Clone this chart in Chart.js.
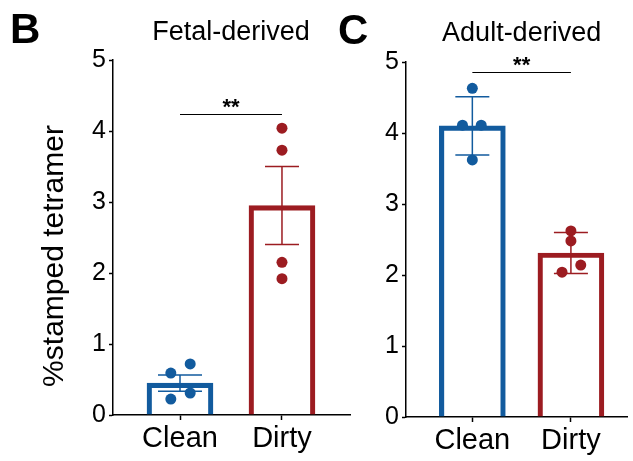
<!DOCTYPE html>
<html>
<head>
<meta charset="utf-8">
<script src="https://cdn.jsdelivr.net/npm/chart.js@4.4.1/dist/chart.umd.min.js"></script>
<style>
  html, body { margin: 0; padding: 0; background: #fff; }
  #wrap { position: relative; width: 633px; height: 461px; overflow: hidden; }
  canvas { position: absolute; top: 0; }
  #chartB { left: 0; }
  #chartC { left: 330px; }
</style>
</head>
<body>
<div id="wrap">
  <canvas id="chartB" width="360" height="461"></canvas>
  <canvas id="chartC" width="303" height="461"></canvas>
</div>
<script>
// values
const categories = ['Clean', 'Dirty'];
const yTicks = [0, 1, 2, 3, 4, 5];
const significance = '**';

const fetalMeans = [0.45, 2.95];
const fetalErrors = [0.115, 0.55];
const fetalClean = [0.59, 0.72, 0.225, 0.31];
const fetalDirty = [4.04, 3.73, 2.15, 1.92];

const adultMeans = [4.10, 2.31];
const adultErrors = [0.41, 0.29];
const adultClean = [4.63, 4.11, 4.11, 3.62];
const adultDirty = [2.62, 2.48, 2.14, 2.04];

const BLUE = '#125b9e';
const RED = '#9c1c21';
const FONT = '"Liberation Sans", Arial, Helvetica, sans-serif';

Chart.defaults.font.family = FONT;
Chart.defaults.color = '#000';

// draws error bars right after the bars, so the dots sit on top
const errorBars = {
  id: 'errorBars',
  afterDatasetDraw(chart, args, opts) {
    if (args.meta.type !== 'bar') return;
    const { ctx, scales: { x, y } } = chart;
    ctx.save();
    ctx.lineWidth = 1.5;
    opts.means.forEach((m, i) => {
      const cx = x.getPixelForValue(i);
      const top = y.getPixelForValue(m + opts.errors[i]);
      const bot = y.getPixelForValue(m - opts.errors[i]);
      const half = opts.caps[i] / 2;
      ctx.strokeStyle = opts.colors[i];
      ctx.beginPath();
      ctx.moveTo(cx, top); ctx.lineTo(cx, bot);
      ctx.moveTo(cx - half, top); ctx.lineTo(cx + half, top);
      ctx.moveTo(cx - half, bot); ctx.lineTo(cx + half, bot);
      ctx.stroke();
    });
    ctx.restore();
  }
};

// bracket, stars, titles, panel letter and y title
const panelText = {
  id: 'panelText',
  afterDraw(chart, args, opts) {
    const { ctx, scales: { x, y } } = chart;
    const x0 = x.getPixelForValue(0);
    const x1 = x.getPixelForValue(1);
    const mid = (x0 + x1) / 2;
    const by = Math.round(y.getPixelForValue(opts.bracketY)) + 0.5;
    ctx.save();
    ctx.strokeStyle = '#000';
    ctx.lineWidth = 1.2;
    ctx.beginPath();
    ctx.moveTo(x0, by); ctx.lineTo(x1, by);
    ctx.stroke();

    ctx.fillStyle = '#000';
    ctx.textAlign = 'center';
    ctx.textBaseline = 'alphabetic';
    ctx.font = 'bold 22px ' + FONT;
    ctx.fillText(significance, mid, by - 1);

    ctx.font = '27px ' + FONT;
    ctx.fillText(opts.title, mid, opts.titleBase);

    ctx.textAlign = 'left';
    ctx.font = 'bold 42px ' + FONT;
    ctx.fillText(opts.letter, opts.letterX, opts.letterBase);

    if (opts.yTitle) {
      ctx.save();
      ctx.translate(opts.yTitleX, opts.yTitleY);
      ctx.rotate(-Math.PI / 2);
      ctx.textAlign = 'center';
      ctx.font = '30px ' + FONT;
      ctx.fillText(opts.yTitle, 0, 0);
      ctx.restore();
    }
    ctx.restore();
  }
};

function makePanel(id, p) {
  return new Chart(document.getElementById(id), {
    type: 'bar',
    data: {
      datasets: [
        {
          type: 'scatter',
          data: p.clean.map((v, i) => ({ x: 0 + p.jitterClean[i], y: v })),
          backgroundColor: BLUE,
          pointRadius: 5.5,
          pointBorderWidth: 0,
          order: 1
        },
        {
          type: 'scatter',
          data: p.dirty.map((v, i) => ({ x: 1 + p.jitterDirty[i], y: v })),
          backgroundColor: RED,
          pointRadius: 5.5,
          pointBorderWidth: 0,
          order: 1
        },
        {
          type: 'bar',
          data: p.means.map((v, i) => ({ x: i, y: v })),
          backgroundColor: 'rgba(255,255,255,0)',
          borderColor: [BLUE, RED],
          borderWidth: 4.5,
          borderSkipped: 'start',
          barThickness: 66,
          order: 3
        }
      ]
    },
    options: {
      responsive: false,
      animation: false,
      events: [],
      layout: { padding: p.padding },
      plugins: {
        legend: { display: false },
        tooltip: { enabled: false },
        errorBars: { means: p.means, errors: p.errors, caps: p.caps, colors: [BLUE, RED] },
        panelText: p.text
      },
      scales: {
        x: {
          type: 'linear',
          offset: false,
          min: p.xMin,
          max: p.xMax,
          afterBuildTicks: s => { s.ticks = categories.map((c, i) => ({ value: i })); },
          afterFit: s => { s.height = p.xHeight; },
          ticks: {
            callback: v => categories[v],
            font: { size: 29 },
            color: '#000',
            padding: 2,
            maxRotation: 0
          },
          grid: { drawOnChartArea: false, offset: false, tickLength: 5, tickWidth: 1.5, tickColor: '#000' },
          border: { color: '#000', width: 1.5 }
        },
        y: {
          min: 0,
          max: 5,
          afterBuildTicks: s => { s.ticks = yTicks.map(v => ({ value: v })); },
          afterFit: s => { s.width = p.yWidth; },
          ticks: { font: { size: 25 }, color: '#000', padding: 3 },
          grid: { drawOnChartArea: false, tickLength: 4, tickWidth: 1.5, tickColor: '#000' },
          border: { color: '#000', width: 1.5 }
        }
      }
    },
    plugins: [errorBars, panelText]
  });
}

makePanel('chartB', {
  means: fetalMeans, errors: fetalErrors, clean: fetalClean, dirty: fetalDirty,
  jitterClean: [-0.09, 0.10, -0.09, 0.10],
  jitterDirty: [0, 0, 0, 0],
  caps: [44, 34],
  xMin: -0.657, xMax: 1.667,
  yWidth: 113, xHeight: 46,
  padding: { left: 0, right: 10, top: 60, bottom: 0 },
  text: {
    bracketY: 4.24, title: 'Fetal-derived', titleBase: 40,
    letter: 'B', letterX: 10, letterBase: 43,
    yTitle: '%stamped tetramer', yTitleX: 63, yTitleY: 256
  }
});

makePanel('chartC', {
  means: adultMeans, errors: adultErrors, clean: adultClean, dirty: adultDirty,
  jitterClean: [0, -0.10, 0.09, 0],
  jitterDirty: [0, 0, 0.10, -0.09],
  caps: [34, 34],
  xMin: -0.673, xMax: 1.574,
  yWidth: 76, xHeight: 44,
  padding: { left: 0, right: 0, top: 62, bottom: 0 },
  text: {
    bracketY: 4.86, title: 'Adult-derived', titleBase: 41,
    letter: 'C', letterX: 8, letterBase: 44
  }
});
</script>
</body>
</html>
